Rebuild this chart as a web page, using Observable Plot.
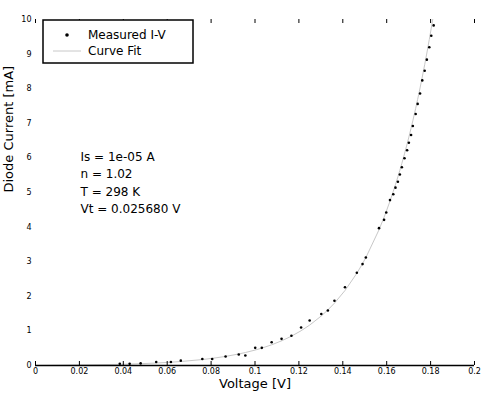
<!DOCTYPE html>
<html>
<head>
<meta charset="utf-8">
<script src="https://cdn.jsdelivr.net/npm/d3@7"></script>
<script src="https://cdn.jsdelivr.net/npm/@observablehq/plot@0.6"></script>
<style>
  html, body { margin: 0; padding: 0; background: #fff; }
</style>
</head>
<body>
<div id="chart"></div>
<script>
// Measured forward I-V samples of the diode (volts, milliamps)
const measuredVoltage = [
  0.0384, 0.0429, 0.0479, 0.0550, 0.0617, 0.0662, 0.0760, 0.0805, 0.0866, 0.0926,
  0.0956, 0.1001, 0.1031, 0.1076, 0.1121, 0.1166, 0.1210, 0.1249, 0.1302, 0.1332,
  0.1362, 0.1410, 0.1464, 0.1490, 0.1505, 0.1565, 0.1588, 0.1598, 0.1615, 0.1630,
  0.1640, 0.1651, 0.1660, 0.1669, 0.1681, 0.1693, 0.1701, 0.1711, 0.1719, 0.1732,
  0.1741, 0.1752, 0.1762, 0.1773, 0.1783, 0.1794, 0.1803, 0.1814
];
const measuredCurrent = [
  0.05, 0.05, 0.06, 0.10, 0.10, 0.14, 0.19, 0.19, 0.26, 0.32,
  0.29, 0.51, 0.51, 0.67, 0.77, 0.86, 1.10, 1.30, 1.49, 1.59,
  1.87, 2.26, 2.68, 2.93, 3.12, 3.97, 4.21, 4.42, 4.78, 4.95,
  5.14, 5.31, 5.52, 5.73, 5.99, 6.22, 6.44, 6.66, 6.92, 7.27,
  7.56, 7.86, 8.24, 8.52, 8.84, 9.20, 9.53, 9.83
];

// Shockley fit parameters
const saturationCurrent = 1e-5;   // A
const idealityFactor = 1.02;
const temperature = 298;          // K
const thermalVoltage = 0.025680;  // V

// Axis ticks and labels
const xTicks = [0, 0.02, 0.04, 0.06, 0.08, 0.1, 0.12, 0.14, 0.16, 0.18, 0.2];
const yTicks = [0, 1, 2, 3, 4, 5, 6, 7, 8, 9, 10];
const xLabel = "Voltage [V]";
const yLabel = "Diode Current [mA]";
const seriesNames = ["Measured I-V", "Curve Fit"];

const annotation = [
  `Is = ${saturationCurrent.toExponential(0).replace("e-", "e-0")} A`,
  `n = ${idealityFactor.toFixed(2)}`,
  `T = ${temperature} K`,
  `Vt = ${thermalVoltage.toFixed(6)} V`
].join("\n");

const FONT = "DejaVu Sans, sans-serif";

const measured = measuredVoltage.map((v, i) => ({v, i: measuredCurrent[i]}));
// Fitted diode equation evaluated at the measured voltages (and at 0 V)
const fit = [0, ...measuredVoltage].map(v => ({
  v,
  i: saturationCurrent * (Math.exp(v / (idealityFactor * thermalVoltage)) - 1) * 1000
}));

const W = 482, H = 398;
const M = {top: 19, right: 8, bottom: 33, left: 35};
const innerH = H - M.top - M.bottom;

// Boxed legend in the upper-left corner of the axes
function legendBox(index, scales, values, dimensions) {
  const x0 = dimensions.marginLeft + 8;
  const y0 = dimensions.marginTop + 1;
  const g = d3.create("svg:g")
    .attr("font-family", FONT)
    .attr("font-size", 12)
    .attr("text-anchor", "start");
  g.append("rect")
    .attr("x", x0).attr("y", y0)
    .attr("width", 150).attr("height", 43)
    .attr("fill", "white").attr("stroke", "black").attr("stroke-width", 1.5);
  // Measured entry: dot marker
  g.append("circle")
    .attr("cx", x0 + 24).attr("cy", y0 + 15).attr("r", 1.8).attr("fill", "black");
  // Fit entry: line sample
  g.append("line")
    .attr("x1", x0 + 10).attr("x2", x0 + 38)
    .attr("y1", y0 + 31).attr("y2", y0 + 31)
    .attr("stroke", "#c8c8c8").attr("stroke-width", 1);
  seriesNames.forEach((name, k) => {
    g.append("text")
      .attr("x", x0 + 45).attr("y", y0 + 15 + 16 * k)
      .attr("dy", "0.35em")
      .attr("fill", "black")
      .text(name);
  });
  return g.node();
}

const chart = Plot.plot({
  width: W,
  height: H,
  marginTop: M.top,
  marginRight: M.right,
  marginBottom: M.bottom,
  marginLeft: M.left,
  style: {fontFamily: FONT, fontSize: "8px", background: "white", color: "black"},
  x: {domain: [0, 0.2]},
  y: {domain: [0, 10]},
  marks: [
    // fitted curve
    Plot.line(fit, {x: "v", y: "i", stroke: "#c8c8c8", strokeWidth: 1, clip: true}),
    // x axis line
    Plot.ruleY([0], {stroke: "black", strokeWidth: 1.5}),
    // inward tick marks on bottom and top edges
    Plot.tickX(xTicks, {x: d => d, stroke: "black", insetTop: innerH - 4}),
    Plot.tickX(xTicks, {x: d => d, stroke: "black", insetBottom: innerH - 4}),
    // tick labels
    Plot.axisX({ticks: xTicks, tickSize: 0, tickPadding: 3, label: null, tickFormat: d3.format("~g")}),
    Plot.axisY({ticks: yTicks, tickSize: 0, tickPadding: 4, label: null}),
    // measured samples
    Plot.dot(measured, {x: "v", y: "i", r: 1.3, fill: "black", stroke: "none"}),
    // axis titles
    Plot.text([xLabel], {frameAnchor: "bottom", dy: 22, fontSize: 13, fill: "black"}),
    Plot.text([yLabel], {frameAnchor: "left", dx: -27, rotate: -90, fontSize: 13, fill: "black"}),
    // fit parameters
    Plot.text([annotation], {
      frameAnchor: "top-left", dx: 45, dy: 129,
      textAnchor: "start", lineAnchor: "top", lineHeight: 1.45,
      fontSize: 12, fill: "black"
    }),
    legendBox
  ]
});

document.getElementById("chart").appendChild(chart);
</script>
</body>
</html>
